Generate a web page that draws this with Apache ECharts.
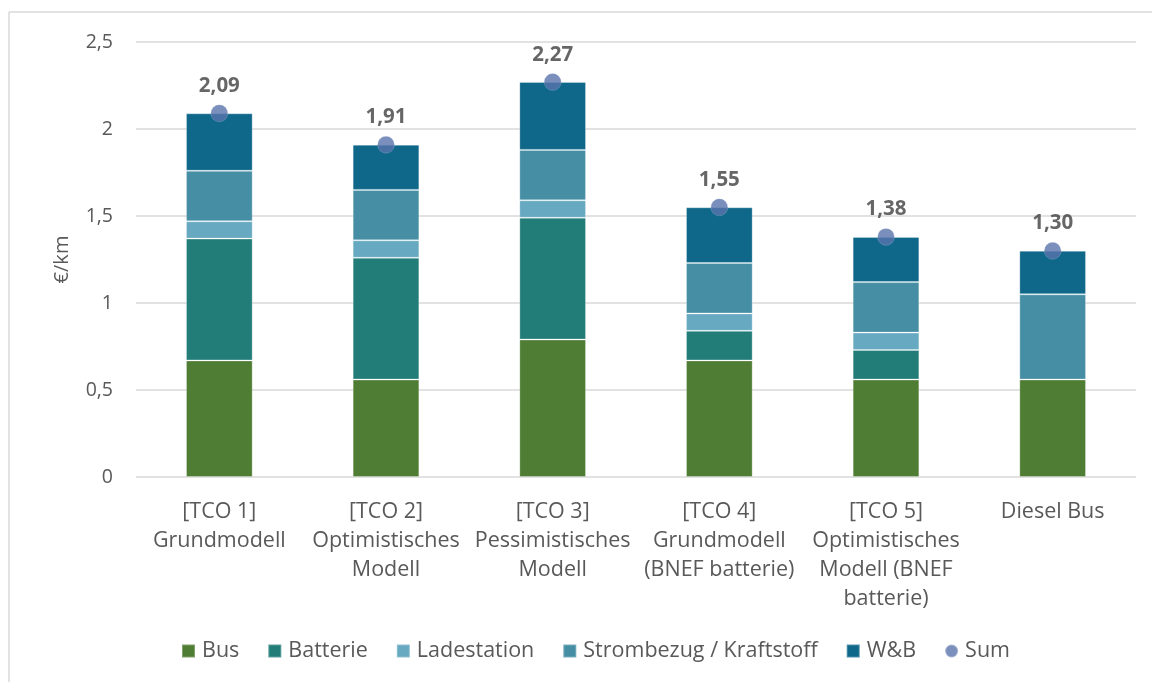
<!DOCTYPE html>
<html>
<head>
<meta charset="utf-8">
<script src="https://cdn.jsdelivr.net/npm/echarts@6/dist/echarts.min.js"></script>
<style>
  html, body { margin: 0; padding: 0; background: #fff; }
  #chart { width: 1152px; height: 682px; }
</style>
</head>
<body>
<div id="chart"></div>
<script>
// Cost categories (€/km) per TCO scenario
const categories = [
  '[TCO 1]\nGrundmodell',
  '[TCO 2]\nOptimistisches\nModell',
  '[TCO 3]\nPessimistisches\nModell',
  '[TCO 4]\nGrundmodell\n(BNEF batterie)',
  '[TCO 5]\nOptimistisches\nModell (BNEF\nbatterie)',
  'Diesel Bus'
];
const bus         = [0.67, 0.56, 0.79, 0.67, 0.56, 0.56];
const batterie    = [0.70, 0.70, 0.70, 0.17, 0.17, null];
const ladestation = [0.10, 0.10, 0.10, 0.10, 0.10, null];
const strombezug  = [0.29, 0.29, 0.29, 0.29, 0.29, 0.49];
const wartung     = [0.33, 0.26, 0.39, 0.32, 0.26, 0.25];
const sum         = [2.09, 1.91, 2.27, 1.55, 1.38, 1.30];
const yTicks = { min: 0, max: 2.5, interval: 0.5 };

const FONT = '"Open Sans", sans-serif';
const TEXT = '#595959';
const comma = v => String(v).replace('.', ',');

const chart = echarts.init(document.getElementById('chart'), null, { renderer: 'canvas' });

function barSeries(name, data, color) {
  return {
    name, type: 'bar', stack: 'tco', data,
    barWidth: '40%',
    itemStyle: { color, borderColor: 'rgba(255,255,255,0.28)', borderWidth: 1 },
    emphasis: { disabled: true }
  };
}

chart.setOption({
  animation: false,
  textStyle: { fontFamily: FONT },
  graphic: [
    { type: 'line', shape: { x1: 9, y1: 12, x2: 1152, y2: 12 }, style: { stroke: '#d9d9d9', lineWidth: 1.5 } },
    { type: 'line', shape: { x1: 9, y1: 12, x2: 9, y2: 682 }, style: { stroke: '#d9d9d9', lineWidth: 1.5 } }
  ],
  grid: { left: 136, right: 16, top: 42, bottom: 205 },
  legend: {
    bottom: 15,
    left: 176,
    itemWidth: 13, itemHeight: 13, itemGap: 28,
    textStyle: { fontFamily: FONT, fontSize: 21.5, color: TEXT, padding: [0, 0, 0, 2] },
    data: [
      { name: 'Bus', icon: 'rect' },
      { name: 'Batterie', icon: 'rect' },
      { name: 'Ladestation', icon: 'rect' },
      { name: 'Strombezug / Kraftstoff', icon: 'rect' },
      { name: 'W&B', icon: 'rect' },
      { name: 'Sum', icon: 'circle' }
    ]
  },
  xAxis: {
    type: 'category',
    data: categories,
    axisLine: { show: false },
    axisTick: { show: false },
    axisLabel: {
      interval: 0, margin: 20,
      fontFamily: FONT, fontSize: 21.5, color: TEXT, lineHeight: 29
    }
  },
  yAxis: {
    type: 'value',
    min: yTicks.min, max: yTicks.max, interval: yTicks.interval,
    name: '€/km',
    nameLocation: 'middle',
    nameGap: 64,
    nameTextStyle: { fontFamily: FONT, fontSize: 20, color: TEXT },
    axisLine: { show: false },
    axisTick: { show: false },
    axisLabel: { margin: 23, fontFamily: FONT, fontSize: 19.5, color: TEXT, formatter: comma },
    splitLine: { lineStyle: { color: '#d9d9d9', width: 1.5 } }
  },
  series: [
    barSeries('Bus', bus, '#4f7d34'),
    barSeries('Batterie', batterie, '#227d78'),
    barSeries('Ladestation', ladestation, '#66a9c0'),
    barSeries('Strombezug / Kraftstoff', strombezug, '#468ea4'),
    barSeries('W&B', wartung, '#0f688a'),
    {
      name: 'Sum', type: 'scatter', data: sum,
      symbol: 'circle', symbolSize: 17,
      itemStyle: { color: '#5973ab', borderColor: 'rgba(255,255,255,0.4)', borderWidth: 0.5 },
      label: {
        show: true, position: 'top', distance: 8,
        fontFamily: FONT, fontSize: 20.5, fontWeight: 'bold', color: '#404040',
        formatter: p => p.value.toFixed(2).replace('.', ',')
      },
      z: 5,
      emphasis: { disabled: true }
    }
  ]
});
</script>
</body>
</html>
